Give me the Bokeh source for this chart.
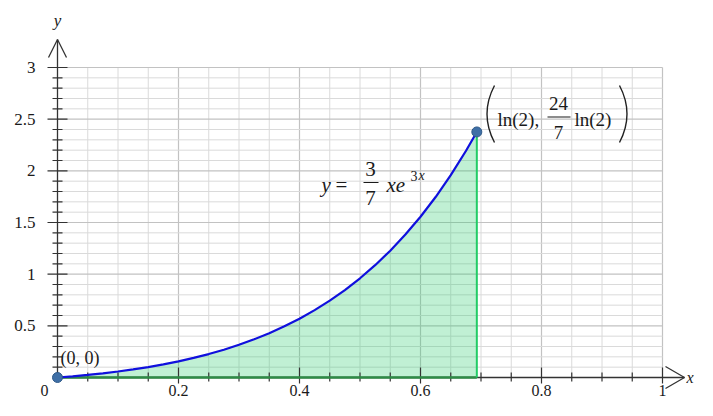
import numpy as np
from bokeh.plotting import figure
from bokeh.models import Range1d
from bokeh.core.properties import value
from bokeh.embed import file_html
from bokeh.resources import INLINE

# ---- data (y = 3/7 * x * e^(3x), 0 <= x <= ln 2) ----
curve_x = [0.0, 0.025, 0.05, 0.075, 0.1, 0.125, 0.15, 0.175, 0.2, 0.225, 0.25,
           0.275, 0.3, 0.325, 0.35, 0.375, 0.4, 0.425, 0.45, 0.475, 0.5, 0.525,
           0.55, 0.575, 0.6, 0.625, 0.65, 0.675, 0.6931]
curve_y = [0.0, 0.0115, 0.0249, 0.0403, 0.0579, 0.0779, 0.1008, 0.1268, 0.1562,
           0.1894, 0.2268, 0.2689, 0.3162, 0.3693, 0.4286, 0.4950, 0.5692, 0.6518,
           0.7439, 0.8464, 0.9604, 1.0869, 1.2274, 1.3831, 1.5556, 1.7466, 1.9580,
           2.1917, 2.3765]
point_x = [0.0, 0.6931]
point_y = [0.0, 2.3765]
x_ticks = [0.2, 0.4, 0.6, 0.8, 1.0]
x_tick_labels = ["0.2", "0.4", "0.6", "0.8", "1"]
y_ticks = [0.5, 1.0, 1.5, 2.0, 2.5, 3.0]
y_tick_labels = ["0.5", "1", "1.5", "2", "2.5", "3"]

# ---- geometry ----
W, H = 697, 400
SX, SY = 605.0, 103.33          # px per unit
X0PX, Y0PX = 57, 377            # origin position in figure px
x_start = -X0PX / SX
x_end = x_start + W / SX
y_end = Y0PX / SY
y_start = y_end - H / SY

def X(px):  # figure px -> data x
    return x_start + px / SX

def Y(py):  # figure py -> data y
    return y_end - py / SY

p = figure(width=W, height=H, output_backend="svg", toolbar_location=None,
           x_range=Range1d(x_start, x_end), y_range=Range1d(y_start, y_end),
           x_axis_type=None, y_axis_type=None, min_border=0)
p.outline_line_color = None
p.grid.visible = False
p.background_fill_color = "white"
p.border_fill_color = "white"

SERIF = value("Liberation Serif")
INK = "#1a1a1a"

def label(x, y, s, size="17px", align="left", italic=False):
    p.text(x=[x], y=[y], text=[s], text_font=SERIF, text_font_size=size,
           text_font_style="italic" if italic else "normal",
           text_align=align, text_baseline="middle", text_color=INK)

# ---- grid ----
gx = [round(0.05 * i, 2) for i in range(1, 21)]
minor_x = [v for v in gx if abs(v / 0.2 - round(v / 0.2)) > 1e-6]
major_x = [v for v in gx if abs(v / 0.2 - round(v / 0.2)) <= 1e-6]
p.segment(x0=minor_x, y0=[0] * len(minor_x), x1=minor_x, y1=[3] * len(minor_x),
          line_color="#dadada", line_width=1)
p.segment(x0=major_x, y0=[0] * len(major_x), x1=major_x, y1=[3] * len(major_x),
          line_color="#c2c2c2", line_width=1.2)
gy = [round(0.1 * i, 1) for i in range(1, 31)]
minor_y = [v for v in gy if abs(v / 0.5 - round(v / 0.5)) > 1e-6]
major_y = [v for v in gy if abs(v / 0.5 - round(v / 0.5)) <= 1e-6]
p.segment(x0=[0] * len(minor_y), y0=minor_y, x1=[1] * len(minor_y), y1=minor_y,
          line_color="#dadada", line_width=1)
p.segment(x0=[0] * len(major_y), y0=major_y, x1=[1] * len(major_y), y1=major_y,
          line_color="#c2c2c2", line_width=1.2)

# ---- shaded area ----
p.varea(x=curve_x, y1=[0] * len(curve_x), y2=curve_y,
        fill_color="#2ecc71", fill_alpha=0.3)

# ---- axes ----
AX = "#333333"
p.line([0, X(684)], [0, 0], line_color=AX, line_width=1.3)
p.line([0, 0], [0, Y(39)], line_color=AX, line_width=1.3)
p.line([X(665), X(684), X(665)], [Y(366), 0, Y(388)], line_color=AX, line_width=1.3)
p.line([X(48), 0, X(66)], [Y(57), Y(39), Y(57)], line_color=AX, line_width=1.3)
p.segment(x0=minor_x, y0=[Y(372)] * len(minor_x), x1=minor_x, y1=[Y(381)] * len(minor_x),
          line_color=AX, line_width=1.2)
p.segment(x0=major_x, y0=[Y(367)] * len(major_x), x1=major_x, y1=[Y(383)] * len(major_x),
          line_color=AX, line_width=1.2)
p.segment(x0=[X(52)] * len(minor_y), y0=minor_y, x1=[X(62)] * len(minor_y), y1=minor_y,
          line_color=AX, line_width=1.2)
p.segment(x0=[X(47)] * len(major_y), y0=major_y, x1=[X(67)] * len(major_y), y1=major_y,
          line_color=AX, line_width=1.2)

# tick labels
p.text(x=x_ticks, y=[Y(390)] * len(x_ticks), text=x_tick_labels, text_font=SERIF,
       text_font_size="16px", text_align="center", text_baseline="middle",
       text_color=INK)
label(X(44), Y(390), "0", size="16px", align="center")
p.text(x=[X(35)] * len(y_ticks), y=y_ticks, text=y_tick_labels, text_font=SERIF,
       text_font_size="17px", text_align="right", text_baseline="middle",
       text_color=INK)
# axis names
label(X(686), 0, "x", size="16px", italic=True)
label(0, Y(20), "y", align="center", italic=True)

# ---- green boundary lines ----
p.line([0, point_x[1]], [0, 0], line_color="#2e8b46", line_width=2.5)
p.line([point_x[1], point_x[1]], [0, point_y[1]], line_color="#22cc66", line_width=2)

# ---- curve ----
p.line(curve_x, curve_y, line_color="#1010dd", line_width=2.2)

# ---- points ----
p.scatter(point_x, point_y, size=10, fill_color="#3f6fa6", line_color="#2f5a8a",
          line_width=1)

# ---- annotations ----
label(X(60), Y(357), "(0, 0)", size="18px")

# formula y = 3/7 x e^{3x}
FS = "21px"
label(X(321), Y(184), "y", size=FS, italic=True)
label(X(335), Y(184), "=", size=FS)
label(X(370), Y(168), "3", size=FS, align="center")
p.line([X(363), X(378)], [Y(182), Y(182)], line_color=INK, line_width=1.2)
label(X(370), Y(197), "7", size=FS, align="center")
label(X(386), Y(184), "xe", size=FS, italic=True)
label(X(410), Y(175), "3", size="14px")
label(X(418), Y(175), "x", size="14px", italic=True)

# point label (ln(2), 24/7 ln(2))
p.quadratic(x0=[X(494), X(619)], y0=[Y(85), Y(85)], x1=[X(494), X(619)], y1=[Y(142), Y(142)],
            cx=[X(479), X(634)], cy=[Y(113.5), Y(113.5)], line_color="#222222", line_width=1.4)
label(X(497), Y(119), "ln(2),", size="19px")
label(X(558), Y(103), "24", size="19px", align="center")
p.line([X(547), X(570)], [Y(116.5), Y(116.5)], line_color=INK, line_width=1.2)
label(X(558), Y(132), "7", size="19px", align="center")
label(X(574), Y(119), "ln(2)", size="19px")

open("out.html", "w").write(file_html(p, INLINE))
